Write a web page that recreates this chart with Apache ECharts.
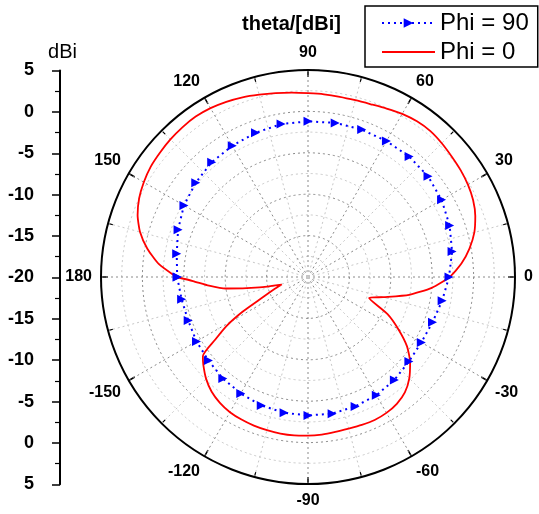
<!DOCTYPE html>
<html>
<head>
<meta charset="utf-8">
<script src="https://cdn.jsdelivr.net/npm/echarts@6/dist/echarts.min.js"></script>
<style>
  html, body { margin: 0; padding: 0; background: #fff; }
  #chart { width: 539px; height: 514px; }
</style>
</head>
<body>
<div id="chart"></div>
<script>
// Phi = 90 cut: theta (deg) and gain (dBi), one sample every 10 degrees
const phi90Theta = [-180, -170, -160, -150, -140, -130, -120, -110, -100, -90,
                    -80, -70, -60, -50, -40, -30, -20, -10, 0,
                    10, 20, 30, 40, 50, 60, 70, 80, 90,
                    100, 110, 120, 130, 140, 150, 160, 170, 180];
const phi90Gain = [-4.2, -4.5, -4.6, -4.45, -4.3, -4.0, -3.76, -3.5, -3.35, -3.28,
                   -3.24, -3.36, -3.5, -3.77, -4.1, -4.2, -4.0, -3.55, -2.97,
                   -2.33, -1.8, -1.37, -1.08, -1.0, -1.05, -1.05, -1.1, -1.2,
                   -1.25, -1.47, -1.7, -1.9, -2.3, -2.7, -3.3, -3.9, -4.2];

// Phi = 0 cut: theta (deg) and gain (dBi)
const phi0Theta = [-180, -178, -175, -172, -168, -164, -160, -155, -152, -149, -146, -143, -140,
                   -135, -130, -125, -120, -115, -110, -105, -100, -95, -90,
                   -85, -80, -75, -70, -65, -60, -55, -50, -45, -40, -35, -30, -25, -19,
                   -15, -10, -5, 0, 5, 10, 15, 20, 25, 30, 35, 40, 45, 50, 55, 60,
                   65, 70, 75, 80, 85, 90, 95, 100, 105, 110, 115, 120, 125, 130,
                   135, 140, 145, 150, 155, 160, 165, 170, 175, 180];
const phi0Gain = [-4.1, -6.1, -8.0, -10.0, -14.0, -16.7, -15.6, -13.5, -11.0, -8.5, -6.5, -4.1, -3.5,
                  -2.6, -1.9, -1.45, -1.15, -1.0, -0.9, -0.85, -0.8, -0.8, -0.85,
                  -0.9, -1.0, -1.05, -1.0, -0.95, -1.05, -1.3, -1.8, -2.7, -3.9, -5.4, -7.4, -9.4, -12.2,
                  -10.6, -7.6, -5.0, -2.9, -1.4, -0.2, 0.8, 1.5, 2.0, 2.3, 2.5, 2.65, 2.85, 3.0, 2.95, 2.75,
                  2.45, 2.2, 2.1, 2.1, 2.15, 2.2, 2.35, 2.55, 2.8, 3.1, 3.35, 3.55, 3.65, 3.6,
                  3.5, 3.35, 3.2, 2.9, 2.5, 1.9, 1.0, -0.3, -1.9, -4.1];

// Radial scale (dBi): centre of the plot to the outer ring
const gainMin = -20;
const gainMax = 5;
const gainStep = 5;
const thetaStep = 30;

const FONT = 'Liberation Sans, Arial, sans-serif';
const majorGrid = { color: '#8a8a8a', width: 1, type: [2, 3] };
const minorGrid = { color: '#c8c8c8', width: 1, type: [2, 3] };

const pairs = (theta, gain) => theta.map((t, i) => [gain[i], t]);

const chart = echarts.init(document.getElementById('chart'), null, { renderer: 'canvas' });

chart.setOption({
  animation: false,
  backgroundColor: '#fff',
  title: {
    text: 'theta/[dBi]',
    left: 242, top: 14, padding: 0,
    textStyle: { fontFamily: FONT, fontSize: 20, fontWeight: 'bold', color: '#000' }
  },
  legend: {
    orient: 'vertical',
    left: 365, top: 6,
    padding: [5, 9, 3, 16],
    itemGap: 5,
    itemWidth: 53, itemHeight: 12,
    borderColor: '#000', borderWidth: 1.5, borderRadius: 0,
    textStyle: { fontFamily: FONT, fontSize: 24, color: '#000' },
    data: [
      'Phi = 90',
      // plain line sample, no marker
      { name: 'Phi = 0', itemStyle: { opacity: 0 } }
    ]
  },
  polar: { center: [308, 277], radius: 207 },
  angleAxis: {
    type: 'value',
    min: -180, max: 180, interval: thetaStep,
    startAngle: 180, clockwise: false,
    axisLine: { show: true, lineStyle: { color: '#000', width: 2 } },
    axisTick: { show: true, inside: true, length: 7, lineStyle: { color: '#000', width: 1.5 } },
    minorTick: { show: true, splitNumber: 2, length: 5, lineStyle: { color: '#000', width: 1.2 } },
    axisLabel: {
      margin: 9,
      fontFamily: FONT, fontSize: 16, fontWeight: 'bold', color: '#000',
      formatter: v => (v === -180 ? '180' : String(v))
    },
    splitLine: { show: true, lineStyle: majorGrid },
    minorSplitLine: { show: true, lineStyle: minorGrid }
  },
  radiusAxis: {
    type: 'value',
    min: gainMin, max: gainMax, interval: gainStep,
    axisLine: { show: false },
    axisTick: { show: false },
    axisLabel: { show: false },
    minorTick: { show: false, splitNumber: 2 },
    splitLine: { show: true, lineStyle: majorGrid },
    minorSplitLine: { show: true, lineStyle: minorGrid }
  },
  // Stand-alone gain scale on the left: mirrored from the outer ring to the centre and back
  grid: { left: 60, top: 70.5, width: 1, height: 413.8, containLabel: false },
  xAxis: { type: 'value', show: false, min: 0, max: 1 },
  yAxis: {
    type: 'value',
    min: -(gainMax - gainMin), max: gainMax - gainMin, interval: gainStep,
    name: 'dBi', nameLocation: 'end', nameGap: 8,
    nameTextStyle: { fontFamily: FONT, fontSize: 20, color: '#000', align: 'center', padding: [0, 0, 0, 5] },
    axisLine: { show: true, lineStyle: { color: '#000', width: 2 } },
    axisTick: { show: true, length: 8, lineStyle: { color: '#000', width: 1.5 } },
    minorTick: { show: true, splitNumber: 2, length: 5, lineStyle: { color: '#000', width: 1.2 } },
    axisLabel: {
      margin: 26,
      fontFamily: FONT, fontSize: 18, fontWeight: 'bold', color: '#000',
      formatter: v => String(Math.abs(v) + gainMin)
    },
    splitLine: { show: false }
  },
  series: [
    {
      name: 'Phi = 90',
      type: 'line',
      coordinateSystem: 'polar',
      data: pairs(phi90Theta, phi90Gain),
      symbol: 'triangle', symbolSize: 9, symbolRotate: -90,
      showSymbol: true,
      itemStyle: { color: '#0000ff' },
      lineStyle: { color: '#0000ff', width: 2, type: [2, 4] },
      z: 4
    },
    {
      name: 'Phi = 0',
      type: 'line',
      coordinateSystem: 'polar',
      data: pairs(phi0Theta, phi0Gain),
      symbol: 'none',
      smooth: 0.2,
      itemStyle: { color: '#ff0000' },
      lineStyle: { color: '#ff0000', width: 1.8 },
      z: 3
    },
    {
      type: 'line',
      xAxisIndex: 0, yAxisIndex: 0,
      data: [],
      silent: true
    }
  ]
});
</script>
</body>
</html>
